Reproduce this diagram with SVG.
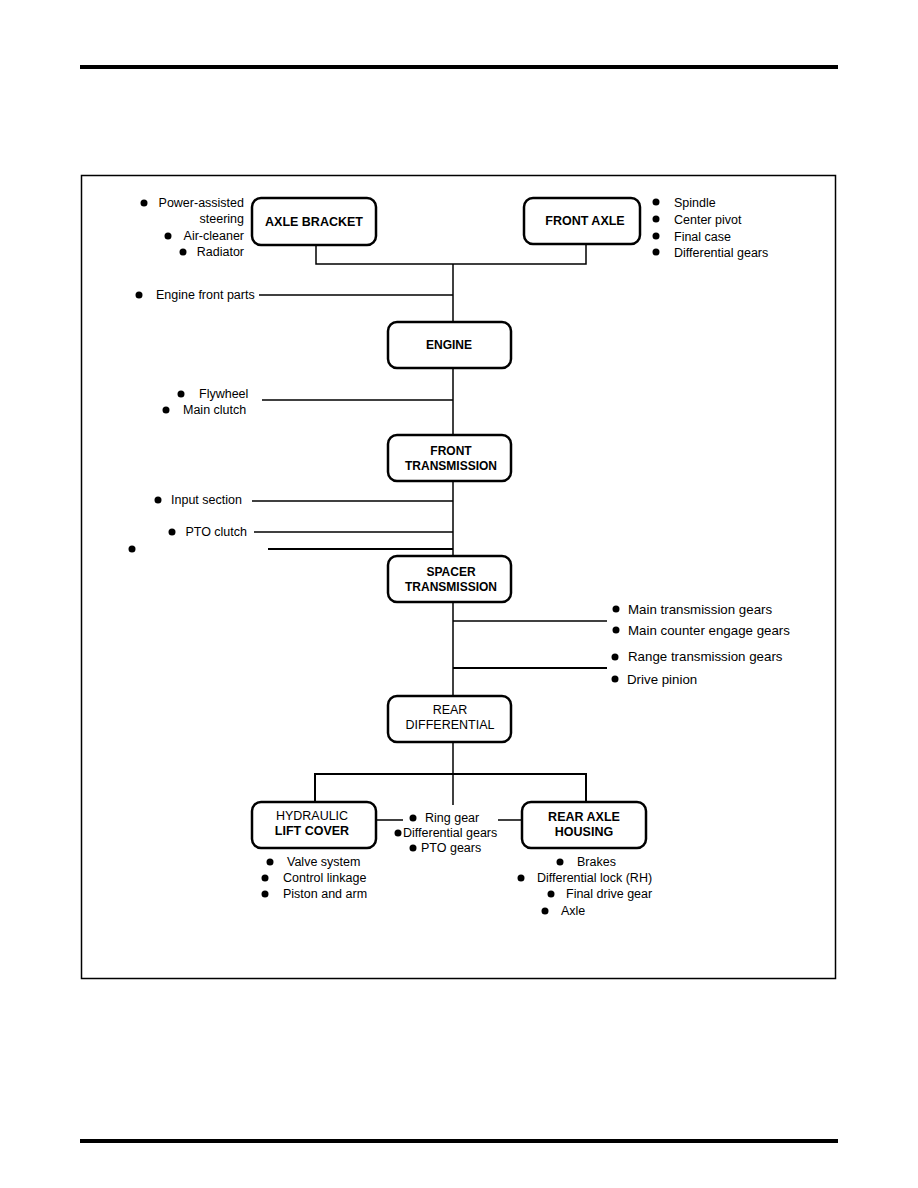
<svg xmlns="http://www.w3.org/2000/svg" width="918" height="1188" viewBox="0 0 918 1188">
<style>
.t{font-family:"Liberation Sans",Arial,sans-serif;font-size:12.5px;fill:#000}
.g{font-size:13.3px}
.r{text-anchor:end}
.b{font-family:"Liberation Sans",Arial,sans-serif;font-size:12.5px;font-weight:bold;fill:#000;text-anchor:middle}
.m{font-family:"Liberation Sans",Arial,sans-serif;font-size:12.5px;fill:#000;text-anchor:middle}
.box{fill:#fff;stroke:#000;stroke-width:2.5}
.ln{stroke:#000;stroke-width:1.5;fill:none}
</style>
<defs><circle id="dot" r="3.5" fill="#000"/></defs>
<rect width="918" height="1188" fill="#fff"/>
<rect x="80" y="65" width="758" height="4" fill="#000"/>
<rect x="80" y="1139" width="758" height="4" fill="#000"/>
<rect x="81.5" y="175.5" width="754" height="803" fill="none" stroke="#000" stroke-width="1.5"/>

<g id="connectors">
<path class="ln" d="M316 245V264H586V244"/>
<path class="ln" d="M453 264V322"/>
<path class="ln" d="M259 295H453"/>
<path class="ln" d="M453 368V435"/>
<path class="ln" d="M262 400H453"/>
<path class="ln" d="M453 481V556"/>
<path class="ln" d="M252 501H453"/>
<path class="ln" d="M254 532H453"/>
<path d="M268 549H453" stroke="#000" stroke-width="2"/>
<path class="ln" d="M453 602V696"/>
<path class="ln" d="M453 621H607"/>
<path d="M453 668H607" stroke="#000" stroke-width="2"/>
<path class="ln" d="M453 742V805"/>
<path d="M315 802V774H586V802" stroke="#000" stroke-width="2" fill="none"/>
<path class="ln" d="M376 820H403"/>
<path class="ln" d="M498 820H522"/>
</g>

<g id="axle-bracket">
<rect class="box" x="252" y="198" width="124" height="47" rx="9"/>
<text class="b" x="314" y="226">AXLE BRACKET</text>
</g>
<g id="front-axle">
<rect class="box" x="524" y="198" width="116" height="46" rx="9"/>
<text class="b" x="585" y="225">FRONT AXLE</text>
</g>
<g id="engine">
<rect class="box" x="388" y="322" width="123" height="46" rx="9"/>
<text class="b" x="449" y="349" style="font-size:12px">ENGINE</text>
</g>
<g id="front-transmission">
<rect class="box" x="388" y="435" width="123" height="46" rx="9"/>
<text class="b" x="451" y="455" style="font-size:12px">FRONT</text>
<text class="b" x="451" y="470" style="font-size:12px">TRANSMISSION</text>
</g>
<g id="spacer-transmission">
<rect class="box" x="388" y="556" width="123" height="46" rx="9"/>
<text class="b" x="451" y="576" style="font-size:12px">SPACER</text>
<text class="b" x="451" y="591" style="font-size:12px">TRANSMISSION</text>
</g>
<g id="rear-differential">
<rect class="box" x="388" y="696" width="123" height="46" rx="9"/>
<text class="m" x="450" y="714">REAR</text>
<text class="m" x="450" y="729">DIFFERENTIAL</text>
</g>
<g id="hydraulic-lift-cover">
<rect class="box" x="252" y="802" width="124" height="46" rx="9"/>
<text class="m" x="312" y="820">HYDRAULIC</text>
<text class="b" x="312" y="835">LIFT COVER</text>
</g>
<g id="rear-axle-housing">
<rect class="box" x="522" y="802" width="124" height="46" rx="9"/>
<text class="b" x="584" y="821">REAR AXLE</text>
<text class="b" x="584" y="836">HOUSING</text>
</g>

<g id="labels">
<use href="#dot" x="144" y="203"/><text class="t r" x="244" y="207">Power-assisted</text>
<text class="t r" x="244" y="223">steering</text>
<use href="#dot" x="168" y="236"/><text class="t r" x="244" y="240">Air-cleaner</text>
<use href="#dot" x="183" y="252"/><text class="t r" x="244" y="256">Radiator</text>

<use href="#dot" x="656" y="202"/><text class="t" x="674" y="207">Spindle</text>
<use href="#dot" x="656" y="219"/><text class="t" x="674" y="224">Center pivot</text>
<use href="#dot" x="656" y="236"/><text class="t" x="674" y="241">Final case</text>
<use href="#dot" x="656" y="252"/><text class="t" x="674" y="257">Differential gears</text>

<use href="#dot" x="139" y="295"/><text class="t" x="156" y="299">Engine front parts</text>

<use href="#dot" x="181" y="394"/><text class="t" x="199" y="398">Flywheel</text>
<use href="#dot" x="166" y="410"/><text class="t" x="183" y="414">Main clutch</text>

<use href="#dot" x="158" y="500"/><text class="t" x="171" y="504">Input section</text>
<use href="#dot" x="172" y="532"/><text class="t r" x="247" y="536">PTO clutch</text>
<use href="#dot" x="132" y="549"/>

<use href="#dot" x="616" y="609"/><text class="t g" x="628" y="614">Main transmission gears</text>
<use href="#dot" x="616" y="630"/><text class="t g" x="628" y="635">Main counter engage gears</text>
<use href="#dot" x="615" y="657"/><text class="t g" x="628" y="661">Range transmission gears</text>
<use href="#dot" x="615" y="679"/><text class="t g" x="627" y="684">Drive pinion</text>

<use href="#dot" x="413" y="818"/><text class="t" x="425" y="822">Ring gear</text>
<use href="#dot" x="398" y="833"/><text class="t" x="403" y="837">Differential gears</text>
<use href="#dot" x="413" y="848"/><text class="t" x="421" y="852">PTO gears</text>

<use href="#dot" x="270" y="862"/><text class="t" x="287" y="866">Valve system</text>
<use href="#dot" x="265" y="878"/><text class="t" x="283" y="882">Control linkage</text>
<use href="#dot" x="265" y="894"/><text class="t" x="283" y="898">Piston and arm</text>

<use href="#dot" x="560" y="862"/><text class="t" x="577" y="866">Brakes</text>
<use href="#dot" x="521" y="878"/><text class="t" x="537" y="882">Differential lock (RH)</text>
<use href="#dot" x="551" y="894"/><text class="t" x="566" y="898">Final drive gear</text>
<use href="#dot" x="545" y="911"/><text class="t" x="561" y="915">Axle</text>
</g>
</svg>
